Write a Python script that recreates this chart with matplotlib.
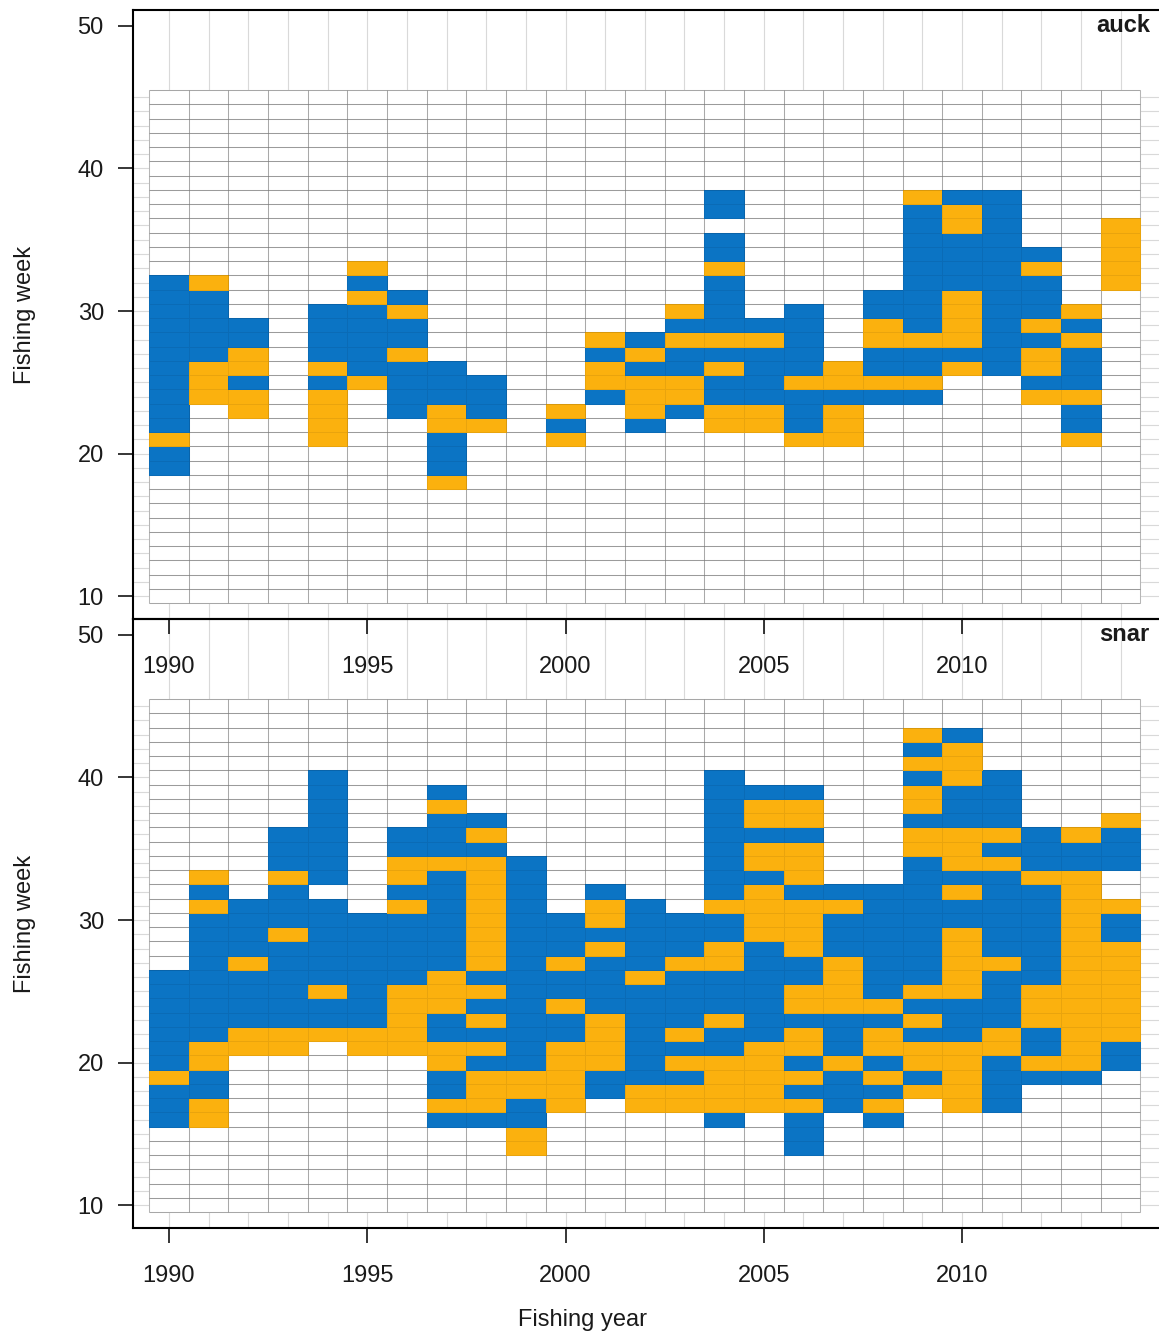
import numpy as np
import matplotlib.pyplot as plt
from matplotlib.colors import ListedColormap
from matplotlib.patches import Rectangle

plt.rcParams['font.family'] = ['Liberation Sans', 'DejaVu Sans']

years = np.arange(1990, 2015)
weeks = np.arange(10, 46)

# one string per fishing year, runs of weeks from top to bottom:
# B = blue category, O = orange category
auck_runs = [
    "B32-22 O21 B20-19",                                    # 1990
    "O32 B31-27 O26-24",                                    # 1991
    "B29-28 O27-26 B25 O24-23",                             # 1992
    "",                                                     # 1993
    "B30-27 O26 B25 O24-21",                                # 1994
    "O33 B32 O31 B30-26 O25",                               # 1995
    "B31 O30 B29-28 O27 B26-23",                            # 1996
    "B26-24 O23-22 B21-19 O18",                             # 1997
    "B25-23 O22",                                           # 1998
    "",                                                     # 1999
    "O23 B22 O21",                                          # 2000
    "O28 B27 O26-25 B24",                                   # 2001
    "B28 O27 B26 O25-23 B22",                               # 2002
    "O30 B29 O28 B27-26 O25-24 B23",                        # 2003
    "B38-37 B35-34 O33 B32-29 O28 B27 O26 B25-24 O23-22",   # 2004
    "B29 O28 B27-24 O23-22",                                # 2005
    "B30-26 O25 B24-22 O21",                                # 2006
    "O26-25 B24 O23-21",                                    # 2007
    "B31-30 O29-28 B27-26 O25 B24",                         # 2008
    "O38 B37-29 O28 B27-26 O25 B24",                        # 2009
    "B38 O37-36 B35-32 O31-28 B27 O26",                     # 2010
    "B38-26",                                               # 2011
    "B34 O33 B32-30 O29 B28 O27-26 B25 O24",                # 2012
    "O30 B29 O28 B27-25 O24 B23-22 O21",                    # 2013
    "O36-32",                                               # 2014
]

snar_runs = [
    "B26-20 O19 B18-16",                                            # 1990
    "O33 B32 O31 B30-22 O21-20 B19-18 O17-16",                      # 1991
    "B31-28 O27 B26-23 O22-21",                                     # 1992
    "B36-34 O33 B32-30 O29 B28-23 O22-21",                          # 1993
    "B40-33 B31-26 O25 B24-23 O22",                                 # 1994
    "B30-23 O22-21",                                                # 1995
    "B36-35 O34-33 B32 O31 B30-26 O25-21",                          # 1996
    "B39 O38 B37-35 O34 B33-27 O26-24 B23-22 O21-20 B19-18 O17 B16",  # 1997
    "B37 O36 B35 O34-27 B26 O25 B24 O23 B22 O21 B20 O19-17 B16",    # 1998
    "B34-20 O19-18 B17-16 O15-14",                                  # 1999
    "B30-28 O27 B26-25 O24 B23-22 O21-17",                          # 2000
    "B32 O31-30 B29 O28 B27-24 O23-20 B19-18",                      # 2001
    "B31-27 O26 B25-19 O18-17",                                     # 2002
    "B30-28 O27 B26-23 O22 B21 O20 B19 O18-17",                     # 2003
    "B40-32 O31 B30-29 O28-27 B26-24 O23 B22-21 O20-17 B16",        # 2004
    "B39 O38-37 B36 O35-34 B33 O32-29 B28-22 O21-17",               # 2005
    "B39 O38-37 B36 O35-33 B32 O31-28 B27-26 O25-24 B23 O22-21 B20 O19 B18 O17 B16-14",  # 2006
    "B32 O31 B30-28 O27-24 B23-21 O20 B19-17",                      # 2007
    "B32-25 O24 B23 O22-21 B20 O19 B18 O17 B16",                    # 2008
    "O43 B42 O41 B40 O39-38 B37 O36-35 B34-26 O25 B24 O23 B22 O21-20 B19 O18",  # 2009
    "B43 O42-40 B39-37 O36-34 B33 O32 B31-30 O29-25 B24-22 O21-17",  # 2010
    "B40-37 O36 B35 O34 B33-28 O27 B26-23 O22-21 B20-17",           # 2011
    "B36-34 O33 B32-26 O25-23 B22-21 O20 B19",                      # 2012
    "O36 B35-34 O33-20 B19",                                        # 2013
    "O37 B36-34 O31 B30-29 O28-22 B21-20",                          # 2014
]

panels = [("auck", auck_runs), ("snar", snar_runs)]
cell_colors = ["#0B74C4", "#FBB10E"]


def runs_to_grid(runs):
    grid = np.full((len(weeks), len(years)), np.nan)
    for j, spec in enumerate(runs):
        for tok in spec.split():
            code = 0 if tok[0] == "B" else 1
            hi, _, lo = tok[1:].partition("-")
            hi = int(hi)
            lo = int(lo) if lo else hi
            grid[(weeks >= lo) & (weeks <= hi), j] = code
    return np.ma.masked_invalid(grid)


W, H = 1159, 1336
fig = plt.figure(figsize=(W / 100, H / 100), dpi=100)

x0, x1 = 133, 1159
x_lim = (1990 + (x0 - 169) / 39.65, 1990 + (x1 - 169) / 39.65)
y_lim = (8.39, 51.12)
boxes = [(10, 619), (619, 1228)]

x_edges = np.append(years - 0.5, years[-1] + 0.5)
y_edges = np.append(weeks - 0.5, weeks[-1] + 0.5)
cmap = ListedColormap(cell_colors)
axes = []

for (name, runs), (top, bot) in zip(panels, boxes):
    ax = fig.add_axes([x0 / W, 1 - bot / H, (x1 - x0) / W, (bot - top) / H])
    ax.set_xlim(*x_lim)
    ax.set_ylim(*y_lim)

    # background lines at whole years / weeks
    ax.vlines(years, y_lim[0], y_lim[1], color="#D9D9D9", lw=0.8, zorder=0)
    ax.hlines(weeks, x_lim[0], x_lim[1], color="#D9D9D9", lw=0.8, zorder=0)
    ax.add_patch(Rectangle((x_edges[0], y_edges[0]), x_edges[-1] - x_edges[0],
                           y_edges[-1] - y_edges[0], facecolor="white",
                           edgecolor="none", zorder=0.5))
    # cell grid
    ax.vlines(x_edges, y_edges[0], y_edges[-1], color="#C4C4C4", lw=0.75, zorder=1)
    ax.hlines(y_edges, x_edges[0], x_edges[-1], color="#B4B4B4", lw=0.75, zorder=1)

    ax.pcolormesh(x_edges, y_edges, runs_to_grid(runs), cmap=cmap,
                  vmin=-0.5, vmax=1.5, edgecolors=(0, 0, 0, 0.07),
                  linewidth=0.4, zorder=2)

    ax.text(0.991, 0.974, name, transform=ax.transAxes, ha="right",
            va="center", fontsize=17, fontweight="bold", color="#1A1A1A")

    for s in ["left", "top", "bottom"]:
        ax.spines[s].set_linewidth(1.5)
    ax.spines["right"].set_visible(False)
    ax.set_yticks([10, 20, 30, 40, 50])
    ax.set_xticks([1990, 1995, 2000, 2005, 2010])
    ax.tick_params(axis="both", direction="out", length=11, width=1.1,
                   labelsize=17, labelcolor="#1A1A1A")
    ax.tick_params(axis="y", pad=10)
    ax.tick_params(axis="x", pad=16)
    fig.text(25 / W, 1 - ((top + bot) / 2) / H, "Fishing week", rotation=90,
             ha="center", va="center", fontsize=17, color="#1A1A1A")
    axes.append(ax)

# the upper panel's year labels fall inside the lower panel
axes[0].set_zorder(3)
axes[0].patch.set_visible(False)

fig.text(583 / W, 1 - 1320 / H, "Fishing year", ha="center", va="center",
         fontsize=17, color="#1A1A1A")

fig.savefig("out.png", dpi=100, facecolor="white")
